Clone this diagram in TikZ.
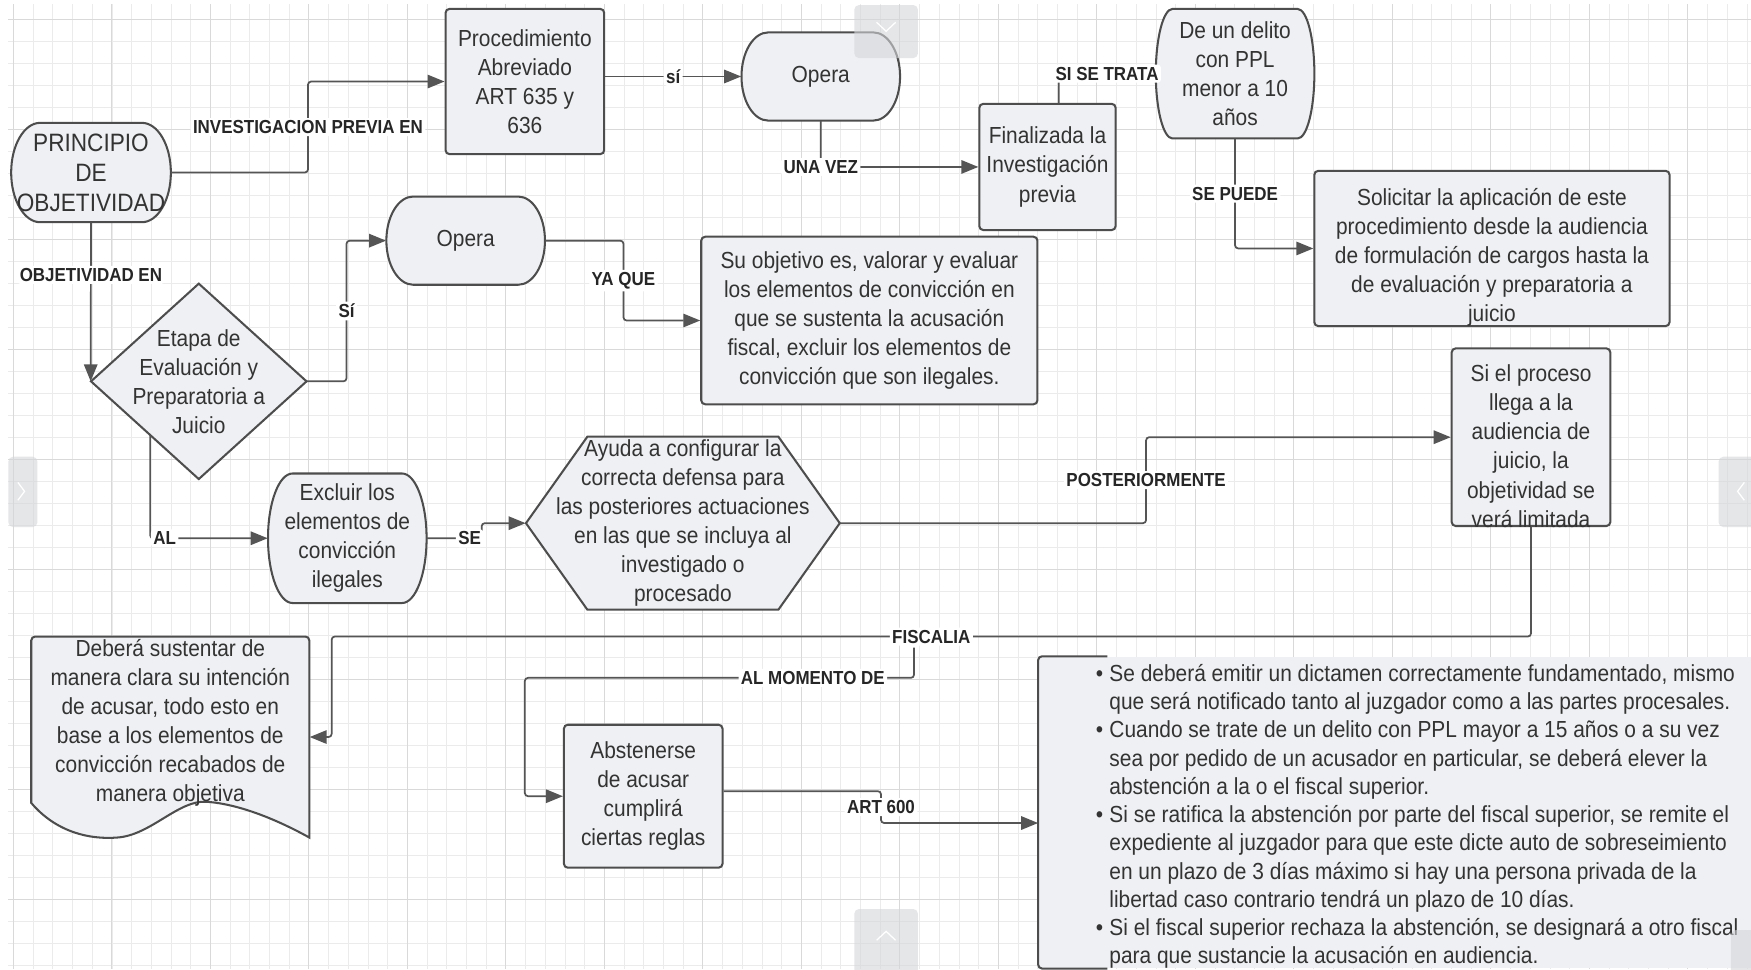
\documentclass[tikz,border=0pt]{standalone}
\usepackage{fontspec}
\setmainfont{Liberation Sans}[FakeStretch=0.9]
\usetikzlibrary{arrows.meta,calc}

\definecolor{boxfill}{HTML}{EEF0F3}
\definecolor{boxline}{HTML}{4D4D4D}
\definecolor{linecol}{HTML}{555555}
\definecolor{txtcol}{HTML}{333333}
\definecolor{gridminor}{HTML}{EBEBEB}
\definecolor{gridmajor}{HTML}{D9D9D9}
\definecolor{uigray}{HTML}{D5D6DA}

\newcommand{\bodyfont}{\fontsize{14.8}{18.5}\selectfont}
\newcommand{\termbox}[5]{%
  \filldraw [boxshape] (#1-#3+#5,#2-#4) -- (#1+#3-#5,#2-#4)
    arc[start angle=90,end angle=-90,x radius=#5*0.025cm,y radius=#4*0.025cm]
    -- (#1-#3+#5,#2+#4)
    arc[start angle=270,end angle=90,x radius=#5*0.025cm,y radius=#4*0.025cm]
    -- cycle;}

\begin{document}
\begin{tikzpicture}[x=0.025cm,y=-0.025cm,
  boxshape/.style={draw=boxline,fill=boxfill,line width=1.3pt},
  rectbox/.style={boxshape,rounded corners=2.5pt,inner sep=0pt,align=center,text=txtcol,font=\bodyfont},
  txtbox/.style={inner sep=0pt,align=center,text=txtcol,font=\bodyfont},
  conn/.style={draw=linecol,line width=1.1pt,rounded corners=2pt,-{Triangle[length=0.38cm,width=0.3cm]}},
  lbl/.style={fill=white,inner sep=1.5pt,text=black!85,font=\fontsize{12}{14}\selectfont\bfseries}]
\useasboundingbox (0,0) rectangle (1568,868);
\fill [white] (0,0) rectangle (1568,868);
\foreach \i in {0,...,88}
  \draw [gridminor,line width=0.5pt] ({12+17.64*\i},4) -- ({12+17.64*\i},868);
\foreach \j in {0,...,43}
  \draw [gridminor,line width=0.5pt] (7.5,{17.5+19.7*\j}) -- (1568,{17.5+19.7*\j});
\foreach \i in {0,5,...,85}
  \draw [gridmajor,line width=0.6pt] ({12+17.64*\i},4) -- ({12+17.64*\i},868);
\foreach \j in {0,5,...,40}
  \draw [gridmajor,line width=0.6pt] (7.5,{17.5+19.7*\j}) -- (1568,{17.5+19.7*\j});

\termbox{81.5}{154.5}{71.5}{44.5}{26}
\termbox{735}{68.5}{71}{39.5}{24}
\termbox{1106}{66}{71}{58}{15}
\termbox{417}{215.5}{71}{39.5}{24}
\termbox{311}{482}{71}{58}{22}
\filldraw [boxshape] (81.5,341.5) -- (178,254) -- (274.5,341.5) -- (178,429) -- cycle;
\filldraw [boxshape] (471,468.5) -- (526,391) -- (697,391) -- (752,468.5) -- (697,546) -- (526,546) -- cycle;
\filldraw [boxshape] (28,719) [rounded corners=2.5pt] -- (28,570) -- (277,570) [sharp corners] -- (277,750)
  .. controls (250,735) and (215,720) .. (185,718)
  .. controls (160,716) and (135,748) .. (105,750)
  .. controls (80,752) and (50,745) .. (28,719) -- cycle;

\node (obj) [txtbox,font=\fontsize{16}{19.2}\selectfont,minimum width=3.575cm,minimum height=2.225cm] at (81.5,154.5) {PRINCIPIO\\DE\\OBJETIVIDAD};
\node (proc) [rectbox,minimum width=3.55cm,minimum height=3.25cm] at (470,73) {Procedimiento\\Abreviado\\ART 635 y\\636};
\node (op1) [txtbox,minimum width=3.55cm,minimum height=1.975cm] at (735,68.5) {Opera};
\node (fin) [rectbox,minimum width=3.05cm,minimum height=2.825cm] at (938,149.5) {Finalizada la\\Investigación\\previa};
\node (delito) [txtbox,minimum width=3.55cm,minimum height=2.9cm] at (1106,66) {De un delito\\con PPL\\menor a 10\\años};
\node (sol) [rectbox,minimum width=7.95cm,minimum height=3.475cm,
  label={[txtbox,yshift=-0.2cm]center:{Solicitar la aplicación de este\\procedimiento desde la audiencia\\de formulación de cargos hasta la\\de evaluación y preparatoria a\\juicio}}] at (1336,222.5) {};
\node (op2) [txtbox,minimum width=3.55cm,minimum height=1.975cm] at (417,215.5) {Opera};
\node (valorar) [rectbox,minimum width=7.525cm,minimum height=3.75cm] at (778.5,287) {Su objetivo es, valorar y evaluar\\los elementos de convicción en\\que se sustenta la acusación\\fiscal, excluir los elementos de\\convicción que son ilegales.};
\node (etapa) [txtbox,minimum width=4.825cm,minimum height=4.375cm] at (178,341.5) {Etapa de\\Evaluación y\\Preparatoria a\\Juicio};
\node (excl) [txtbox,minimum width=3.55cm,minimum height=2.9cm] at (311,482) {Excluir los\\elementos de\\convicción\\ilegales};
\node (ayuda) [txtbox,minimum width=7.025cm,minimum height=3.875cm] at (611.5,468.5) {Ayuda a configurar la\\correcta defensa para\\las posteriores actuaciones\\en las que se incluya al\\investigado o\\procesado};
\node (limita) [rectbox,minimum width=3.55cm,minimum height=3.975cm,
  label={[txtbox,yshift=-0.2cm]center:{Si el proceso\\llega a la\\audiencia de\\juicio, la\\objetividad se\\verá limitada}}] at (1371,391.5) {};
\node (sustentar) [txtbox,minimum width=6.225cm] at (152.5,647.5) {Deberá sustentar de\\manera clara su intención\\de acusar, todo esto en\\base a los elementos de\\convicción recabados de\\manera objetiva};
\node (abstener) [rectbox,minimum width=3.55cm,minimum height=3.2cm] at (576,713) {Abstenerse\\de acusar\\cumplirá\\ciertas reglas};
\node (reglas) [fill=boxfill,inner sep=0pt,minimum width=16.25cm,minimum height=6.975cm] at (1255,727.5) {};
\draw [boxshape,fill=none,rounded corners=2.5pt] ($(reglas.north west)+(62,0)$) -- (reglas.north west) -- (reglas.south west) -- ($(reglas.south west)+(62,0)$);
\node (reglastxt) [anchor=west,inner sep=0pt,text=txtcol,font=\fontsize{14.8}{18}\selectfont] at (981,731.5) {%
  \begin{tabular}{@{}l@{\hspace{4pt}}l@{}}
  \textbullet & Se deberá emitir un dictamen correctamente fundamentado, mismo\\
   & que será notificado tanto al juzgador como a las partes procesales.\\
  \textbullet & Cuando se trate de un delito con PPL mayor a 15 años o a su vez\\
   & sea por pedido de un acusador en particular, se deberá elever la\\
   & abstención a la o el fiscal superior.\\
  \textbullet & Si se ratifica la abstención por parte del fiscal superior, se remite el\\
   & expediente al juzgador para que este dicte auto de sobreseimiento\\
   & en un plazo de 3 días máximo si hay una persona privada de la\\
   & libertad caso contrario tendrá un plazo de 10 días.\\
  \textbullet & Si el fiscal superior rechaza la abstención, se designará a otro fiscal\\
   & para que sustancie la acusación en audiencia.
  \end{tabular}};

\coordinate (bend) at (297,570);
\coordinate (branch) at (818.5,580);
\coordinate (fold) at (470,607);

\draw [conn] (obj.east) -- ++(122.5,0) |- (proc.west) node [lbl,pos=0.25] {INVESTIGACION PREVIA EN};
\draw [conn] (proc.east |- op1.west) -- (op1.west) node [lbl,pos=0.5] {sí};
\draw [conn] (op1.south) |- (fin.west) node [lbl,pos=0.5] {UNA VEZ};
\draw [conn] ($(fin.north)+(10,0)$) |- (delito.west) node [lbl,pos=0.75] {SI SE TRATA};
\draw [conn] (delito.south) |- (sol.west) node [lbl,pos=0.25] {SE PUEDE};
\draw [conn] (obj.south) -- (etapa.west) node [lbl,pos=0.33] {OBJETIVIDAD EN};
\draw [conn] (etapa.east) -- ++(35.5,0) |- (op2.west) node [lbl,pos=0.25] {Sí};
\draw [conn] (op2.east) -- ++(70,0) |- (valorar.west) node [lbl,pos=0.25] {YA QUE};
\draw [conn] ($(etapa.west)!0.55!(etapa.south)$) |- (excl.west) node [lbl,pos=0.5,anchor=west] {AL};
\draw [conn] (excl.east) -- node [lbl,pos=0.78] {SE} ++(49,0) |- (ayuda.west);
\draw [conn] (ayuda.east) -- ++(274,0) |- (limita.west) node [lbl,pos=0.25] {POSTERIORMENTE};
\draw [conn] (limita.south) |- (bend) node [lbl,pos=0.75] {FISCALIA} |- ($(sustentar.east)+(0,12.5)$);
\draw [conn] (branch) |- (fold) node [lbl,pos=0.63] {AL MOMENTO DE} |- (abstener.west);
\draw [conn] ($(abstener.east)+(0,-4.5)$) -- ++(141,0) |- ($(reglas.west)+(0,9.5)$) node [lbl,pos=0.25] {ART 600};

\fill [uigray,opacity=0.6,rounded corners=3pt] (765,4.5) rectangle (822,52);
\fill [uigray,opacity=0.6,rounded corners=3pt] (765,814) rectangle (822,875);
\fill [uigray,opacity=0.6,rounded corners=3pt] (7.5,409) rectangle (33.5,472);
\fill [uigray,opacity=0.6,rounded corners=3pt] (1539,409) rectangle (1575,472);
\fill [uigray,opacity=0.6,rounded corners=3pt] (1550,833) rectangle (1575,875);
\draw [white,line width=0.8pt] (785,20) -- (793.5,28) -- (802,20);
\draw [white,line width=0.8pt] (785,842) -- (793.5,834) -- (802,842);
\draw [white,line width=0.8pt] (16,432) -- (22,440) -- (16,448);
\draw [white,line width=0.8pt] (1562,432) -- (1556,440) -- (1562,448);
\end{tikzpicture}
\end{document}
